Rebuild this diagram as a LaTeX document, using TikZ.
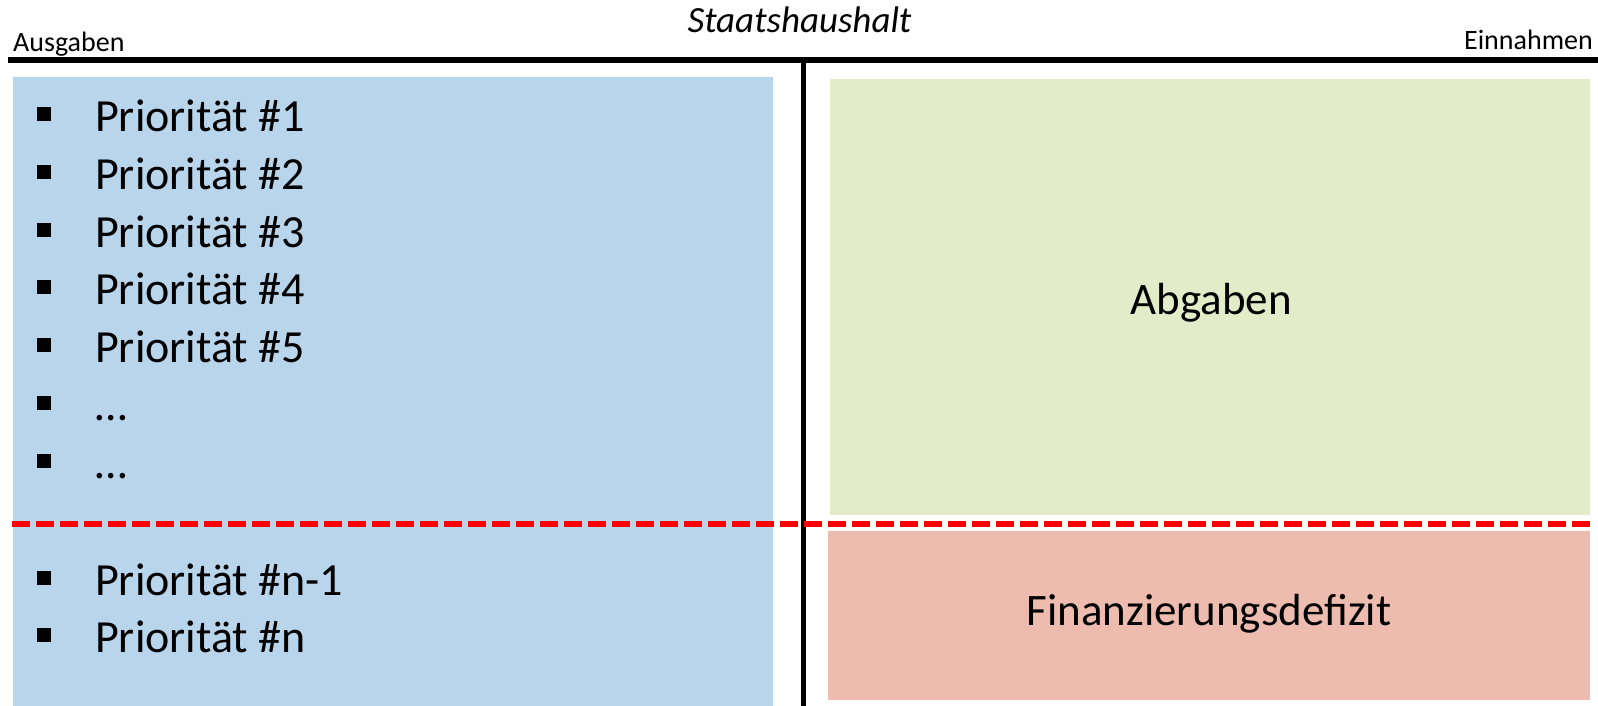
\documentclass[tikz,border=0pt]{standalone}
\usepackage{fontspec}
\setmainfont{Carlito}

\definecolor{SpendBlue}{RGB}{185,213,235}
\definecolor{IncomeGreen}{RGB}{226,236,200}
\definecolor{DeficitRed}{RGB}{237,188,174}

\tikzset{
  item/.style={anchor=base west,inner sep=0pt,font=\fontsize{46}{46}\selectfont},
  side/.style={inner sep=0pt,font=\fontsize{28}{28}\selectfont},
  block/.style={anchor=base,inner sep=0pt,font=\fontsize{45}{45}\selectfont}
}

\newcommand{\drawitem}[3]{% Parameters: name, baseline, label
  \fill[black] (37,#2-24.5) rectangle +(14,14);
  \node[item] (#1) at (95,#2) {#3};
}

\begin{document}
\begin{tikzpicture}[x=1pt,y=-1pt]
  \useasboundingbox (0,0) rectangle (1598,706);
  % boxes
  \fill[SpendBlue]   (13,77) rectangle (773,706);
  \fill[IncomeGreen] (830,79) rectangle (1590,515);
  \fill[DeficitRed]  (828,531) rectangle (1590,700);
  % T-account
  \draw[line width=5.5pt] (8,60) -- (1598,60);
  \draw[line width=5pt] (803,60) -- (803,706);
  \draw[red,line width=6pt,dash pattern=on 18pt off 6pt] (12,524) -- (1590,524);
  % headings
  \node[anchor=base,inner sep=0pt,font=\fontsize{37}{37}\selectfont\itshape] (title) at (799.5,33) {Staatshaushalt};
  \node[side,anchor=base west] (ausgaben) at (13,52) {Ausgaben};
  \node[side,anchor=base east] (einnahmen) at (1593,50) {Einnahmen};
  % spending priorities
  \drawitem{p1}{131.5}{Priorität \#1}
  \drawitem{p2}{189.3}{Priorität \#2}
  \drawitem{p3}{247.1}{Priorität \#3}
  \drawitem{p4}{304.9}{Priorität \#4}
  \drawitem{p5}{362.7}{Priorität \#5}
  \drawitem{p6}{420.5}{…}
  \drawitem{p7}{478.3}{…}
  \drawitem{pn1}{595}{Priorität \#n-1}
  \drawitem{pn}{652}{Priorität \#n}
  % income
  \node[block] (abgaben) at (1211,314) {Abgaben};
  \node[block] (defizit) at (1209,625) {Finanzierungsdefizit};
\end{tikzpicture}
\end{document}
